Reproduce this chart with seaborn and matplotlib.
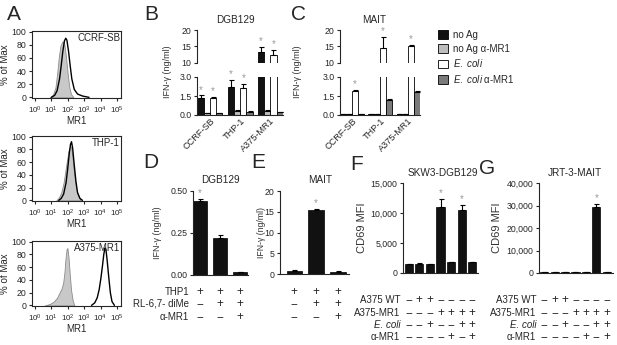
import numpy as np
import pandas as pd
import matplotlib
matplotlib.use("Agg")
import matplotlib.pyplot as plt
import matplotlib.transforms as mtransforms
from matplotlib.patches import Patch
import seaborn as sns

# ---------------- data ----------------
# Panel A: histogram outlines (log10 MR1 intensity, % of max)
ccrf_iso_x = [0.9, 1.1, 1.25, 1.35, 1.45, 1.55, 1.65, 1.72, 1.8, 1.9, 2.0, 2.1, 2.2, 2.35]
ccrf_iso_y = [0, 4, 15, 35, 60, 78, 84, 85, 80, 60, 35, 15, 5, 0]
ccrf_mr1_x = [1.0, 1.2, 1.35, 1.5, 1.6, 1.7, 1.8, 1.88, 1.95, 2.05, 2.15, 2.25, 2.4, 2.6, 2.9, 3.3]
ccrf_mr1_y = [0, 3, 10, 28, 48, 70, 86, 90, 87, 70, 48, 28, 12, 5, 2, 0]
thp_iso_x = [1.3, 1.45, 1.6, 1.75, 1.85, 1.95, 2.05, 2.15, 2.22, 2.3, 2.4, 2.5, 2.65, 2.8]
thp_iso_y = [0, 4, 12, 28, 45, 62, 78, 85, 82, 65, 40, 20, 6, 0]
thp_mr1_x = [1.45, 1.6, 1.75, 1.9, 2.0, 2.1, 2.17, 2.23, 2.3, 2.4, 2.5, 2.6, 2.75, 2.9]
thp_mr1_y = [0, 3, 10, 28, 50, 75, 88, 92, 82, 55, 30, 12, 3, 0]
a375_iso_x = [0.6, 0.9, 1.15, 1.35, 1.5, 1.62, 1.72, 1.8, 1.87, 1.93, 1.98, 2.05, 2.12, 2.2, 2.3, 2.4]
a375_iso_y = [0, 2, 6, 12, 20, 26, 35, 52, 75, 88, 90, 75, 50, 25, 8, 0]
a375_mr1_x = [3.45, 3.65, 3.8, 3.92, 4.02, 4.12, 4.2, 4.27, 4.33, 4.4, 4.5, 4.6, 4.7, 4.85]
a375_mr1_y = [0, 4, 12, 25, 42, 62, 80, 90, 88, 72, 45, 20, 6, 0]
a_titles = ["CCRF-SB", "THP-1", "A375-MR1"]

# Panels B / C
cells = ["CCRF-SB", "THP-1", "A375-MR1"]
conditions = ["no Ag", "no Ag α-MR1", "E. coli", "E. coli α-MR1"]
b_noag = [1.35, 2.2, 13.3]
b_noag_mr1 = [0.15, 0.35, 0.35]
b_ecoli = [1.35, 2.15, 12.5]
b_ecoli_mr1 = [0.15, 0.25, 0.2]
b_noag_err = [0.2, 0.6, 1.5]
b_noag_mr1_err = [0.02, 0.03, 0.03]
b_ecoli_err = [0.1, 0.3, 1.5]
b_ecoli_mr1_err = [0.02, 0.03, 0.02]
b_sig = [[1, 1, 1], [0, 0, 0], [1, 1, 1], [0, 0, 0]]

c_noag = [0.04, 0.04, 0.04]
c_noag_mr1 = [0.04, 0.04, 0.04]
c_ecoli = [1.9, 14.5, 15.3]
c_ecoli_mr1 = [0.04, 1.2, 1.8]
c_noag_err = [0.01, 0.01, 0.01]
c_noag_mr1_err = [0.01, 0.01, 0.01]
c_ecoli_err = [0.08, 3.5, 0.3]
c_ecoli_mr1_err = [0.01, 0.05, 0.08]
c_sig = [[0, 0, 0], [0, 0, 0], [1, 1, 1], [0, 0, 0]]

# Panel D / E
de_rows = ["THP1", "RL-6,7- diMe", "α-MR1"]
de_thp1 = ["+", "+", "+"]
de_rl = ["−", "+", "+"]
de_mr1 = ["−", "−", "+"]
d_vals = [0.44, 0.22, 0.015]
d_err = [0.012, 0.02, 0.003]
d_sig = [1, 0, 0]
e_vals = [0.8, 15.5, 0.6]
e_err = [0.05, 0.2, 0.05]
e_sig = [0, 1, 0]

# Panel F / G
fg_rows = ["A375 WT", "A375-MR1", "E. coli", "α-MR1"]
fg_wt = ["−", "+", "+", "−", "−", "−", "−"]
fg_mr1cells = ["−", "−", "−", "+", "+", "+", "+"]
fg_ecoli = ["−", "−", "+", "−", "−", "+", "+"]
fg_amr1 = ["−", "−", "−", "−", "+", "−", "+"]
f_vals = [1500, 1550, 1500, 11000, 1800, 10500, 1850]
f_err = [40, 40, 40, 1300, 60, 800, 60]
f_sig = [0, 0, 0, 1, 0, 1, 0]
g_vals = [250, 250, 250, 250, 250, 29500, 300]
g_err = [30, 30, 30, 30, 30, 1000, 30]
g_sig = [0, 0, 0, 0, 0, 1, 0]

# ---------------- style ----------------
sns.set_theme(style="ticks")
plt.rcParams["font.family"] = ["Liberation Sans", "DejaVu Sans"]
plt.rcParams["mathtext.fontset"] = "custom"
plt.rcParams["mathtext.rm"] = "Liberation Sans"
plt.rcParams["mathtext.it"] = "Liberation Sans:italic"
plt.rcParams["axes.linewidth"] = 0.8
plt.rcParams["xtick.major.width"] = 0.8
plt.rcParams["ytick.major.width"] = 0.8
plt.rcParams["xtick.major.size"] = 3
plt.rcParams["ytick.major.size"] = 3

W, H = 617, 345
fig = plt.figure(figsize=(W / 100, H / 100), dpi=100)


def rect(x0, y0, x1, y1):
    return [x0 / W, 1 - y1 / H, (x1 - x0) / W, (y1 - y0) / H]


def ftext(x, y, s, **kw):
    fig.text(x / W, 1 - y / H, s, **kw)


TICK = 6.3
STAR = "#9a9a9a"

# ---------------- Panel A ----------------
a_boxes = [(32, 31, 121, 98), (32, 136, 121, 201), (32, 241, 121, 306)]
a_data = [(ccrf_iso_x, ccrf_iso_y, ccrf_mr1_x, ccrf_mr1_y),
          (thp_iso_x, thp_iso_y, thp_mr1_x, thp_mr1_y),
          (a375_iso_x, a375_iso_y, a375_mr1_x, a375_mr1_y)]
for box, (ix, iy, mx, my), title in zip(a_boxes, a_data, a_titles):
    ax = fig.add_axes(rect(*box))
    ax.fill_between(10 ** np.array(ix), iy, color="#c8c8c8", edgecolor="#8c8c8c", lw=0.6)
    sns.lineplot(x=10 ** np.array(mx), y=my, ax=ax, color="black", lw=1.0)
    ax.set_xscale("log")
    ax.set_xlim(10 ** -0.18, 10 ** 5.25)
    ax.set_ylim(-1, 101)
    ax.set_xticks([10 ** k for k in range(6)])
    ax.set_xticklabels([f"$10^{{{k}}}$" for k in range(6)], fontsize=5.8)
    ax.set_yticks([0, 20, 40, 60, 80, 100])
    ax.tick_params(axis="y", labelsize=TICK, length=2.5, pad=1.5)
    ax.tick_params(axis="x", which="major", length=2.5, pad=2)
    ax.tick_params(axis="x", which="minor", length=1.5, width=0.5)
    ax.set_xlabel("MR1", fontsize=7, labelpad=0.5)
    ax.set_ylabel("% of Max", fontsize=7, labelpad=1)
    ax.text(0.99, 0.97, title, transform=ax.transAxes, ha="right", va="top", fontsize=7)

# ---------------- Panels B / C (broken axes) ----------------
pal = ["#111111", "#bdbdbd", "#ffffff", "#7a7a7a"]


def broken(x0, x1, vals, errs, sigs, ylab_x, title, title_x):
    df = pd.DataFrame({
        "cell": cells * 4,
        "cond": [c for c in conditions for _ in cells],
        "value": [v for vs in vals for v in vs],
    })
    ax_t = fig.add_axes(rect(x0, 30, x1, 63))
    ax_b = fig.add_axes(rect(x0, 77, x1, 115))
    for ax in (ax_t, ax_b):
        sns.barplot(data=df, x="cell", y="value", hue="cond", order=cells,
                    hue_order=conditions, palette=pal, width=0.83, ax=ax,
                    edgecolor="black", linewidth=0.6, errorbar=None, legend=False)
        for i, p in enumerate(ax.patches[:12]):
            j, k = divmod(i, 3)
            cx = p.get_x() + p.get_width() / 2
            ax.errorbar(cx, vals[j][k], yerr=[[0], [errs[j][k]]], fmt="none",
                        ecolor="black", elinewidth=0.8, capsize=1.8, capthick=0.8)
        ax.set_xlim(-0.43, 2.42)
        ax.set_xlabel("")
        ax.set_ylabel("")
        ax.tick_params(axis="y", labelsize=TICK, length=2.5, pad=1.5)
    ax_t.set_ylim(10, 20)
    ax_t.set_yticks([10, 15, 20])
    ax_t.set_xticks([])
    ax_t.spines[["top", "right", "bottom"]].set_visible(False)
    ax_b.set_ylim(0, 3.0)
    ax_b.set_yticks([0, 1.5, 3.0])
    ax_b.set_yticklabels(["0.0", "1.5", "3.0"])
    ax_b.spines[["top", "right"]].set_visible(False)
    ax_b.tick_params(axis="x", length=0, pad=1)
    ax_b.set_xticks(range(3))
    ax_b.set_xticklabels(cells, rotation=45, ha="right", rotation_mode="anchor", fontsize=6.6)
    for i, p in enumerate(ax_b.patches[:12]):
        j, k = divmod(i, 3)
        if not sigs[j][k]:
            continue
        cx = p.get_x() + p.get_width() / 2
        top = vals[j][k] + errs[j][k]
        if top > 3.0:
            ax_t.text(cx, top + 0.2, "*", ha="center", va="bottom", fontsize=7, color=STAR)
        else:
            ax_b.text(cx, top + 0.05, "*", ha="center", va="bottom", fontsize=7, color=STAR)
    ftext(ylab_x, 72, "IFN-γ (ng/ml)", rotation=90, ha="center", va="center", fontsize=6.5, color="#333333")
    ftext(title_x, 20, title, ha="center", va="center", fontsize=7.2)


broken(197, 283, [b_noag, b_noag_mr1, b_ecoli, b_ecoli_mr1],
       [b_noag_err, b_noag_mr1_err, b_ecoli_err, b_ecoli_mr1_err], b_sig, 167, "DGB129", 235)
broken(340, 420, [c_noag, c_noag_mr1, c_ecoli, c_ecoli_mr1],
       [c_noag_err, c_noag_mr1_err, c_ecoli_err, c_ecoli_mr1_err], c_sig, 298, "MAIT", 374)

handles = [Patch(facecolor=c, edgecolor="black", linewidth=0.6) for c in pal]
labels = ["no Ag", "no Ag α-MR1", r"$\it{E.\ coli}$", r"$\it{E.\ coli}$ α-MR1"]
fig.legend(handles, labels, loc="upper left", bbox_to_anchor=(433 / W, 1 - 25 / H),
           frameon=False, fontsize=7, handlelength=1.0, handleheight=1.0,
           labelspacing=0.38, handletextpad=0.6, borderpad=0)


# ---------------- simple bar panels ----------------
def simple(box, vals, errs, sigs, width, xlim, ylim, yticks, yticklabels, star_off):
    ax = fig.add_axes(rect(*box))
    names = [str(i) for i in range(len(vals))]
    sns.barplot(x=names, y=vals, color="#111111", width=width, ax=ax,
                edgecolor="black", linewidth=0.5, errorbar=None)
    centers = []
    for i, p in enumerate(ax.patches[:len(vals)]):
        cx = p.get_x() + p.get_width() / 2
        centers.append(cx)
        ax.errorbar(cx, vals[i], yerr=[[0], [errs[i]]], fmt="none", ecolor="black",
                    elinewidth=0.8, capsize=1.8, capthick=0.8)
        if sigs[i]:
            ax.text(cx, vals[i] + errs[i] + star_off, "*", ha="center", va="bottom",
                    fontsize=7, color=STAR)
    ax.set_xlim(*xlim)
    ax.set_ylim(*ylim)
    ax.set_yticks(yticks)
    ax.set_yticklabels(yticklabels)
    ax.set_xticks([])
    ax.set_xlabel("")
    ax.set_ylabel("")
    ax.spines[["top", "right"]].set_visible(False)
    ax.tick_params(axis="y", labelsize=TICK, length=2.5, pad=1.5)
    return ax, centers


def rows_below(ax, centers, rows, row_y, label_x=None, labels=None, fs=8.5):
    tr = mtransforms.blended_transform_factory(ax.transData, fig.transFigure)
    for r, (marks, y) in enumerate(zip(rows, row_y)):
        for cx, m in zip(centers, marks):
            ax.text(cx, 1 - y / H, m, transform=tr, ha="center", va="center", fontsize=fs)
        if labels is not None:
            style = "italic" if labels[r].startswith("E.") else "normal"
            ftext(label_x, y, labels[r], ha="right", va="center", fontsize=7, style=style)


# D
axD, cD = simple((193, 191, 248, 275), d_vals, d_err, d_sig, 0.7, (-0.36, 2.4),
                 (0, 0.5), [0, 0.25, 0.5], ["0.00", "0.25", "0.50"], 0.003)
rows_below(axD, cD, [de_thp1, de_rl, de_mr1], [292, 304, 317], 189, de_rows)
ftext(157, 233, "IFN-γ (ng/ml)", rotation=90, ha="center", va="center", fontsize=6.5, color="#333333")
ftext(220, 180, "DGB129", ha="center", va="center", fontsize=7.2)

# E
axE, cE = simple((280, 191, 349, 274), e_vals, e_err, e_sig, 0.7, (-0.65, 2.5),
                 (0, 20), [0, 5, 10, 15, 20], ["0", "5", "10", "15", "20"], 0.2)
rows_below(axE, cE, [de_thp1, de_rl, de_mr1], [292, 304, 317])
ftext(261, 233, "IFN-γ (ng/ml)", rotation=90, ha="center", va="center", fontsize=6.3, color="#333333")
ftext(320, 180, "MAIT", ha="center", va="center", fontsize=7.2)

# F
axF, cF = simple((403, 183, 478, 273), f_vals, f_err, f_sig, 0.78, (-0.55, 6.55),
                 (0, 15000), [0, 5000, 10000, 15000], ["0", "5,000", "10,000", "15,000"], 150)
rows_below(axF, cF, [fg_wt, fg_mr1cells, fg_ecoli, fg_amr1], [300, 313, 325, 337], 400, fg_rows)
ftext(362, 228, "CD69 MFI", rotation=90, ha="center", va="center", fontsize=8, color="#333333")
ftext(443, 173, "SKW3-DGB129", ha="center", va="center", fontsize=7.2)

# G
axG, cG = simple((539, 183, 613, 273), g_vals, g_err, g_sig, 0.78, (-0.5, 6.6),
                 (0, 40000), [0, 10000, 20000, 30000, 40000],
                 ["0", "10,000", "20,000", "30,000", "40,000"], 500)
rows_below(axG, cG, [fg_wt, fg_mr1cells, fg_ecoli, fg_amr1], [300, 313, 325, 337], 536, fg_rows)
ftext(497, 228, "CD69 MFI", rotation=90, ha="center", va="center", fontsize=8, color="#333333")
ftext(575, 173, "JRT-3-MAIT", ha="center", va="center", fontsize=7.2)

# panel letters
for letter, (x, y) in zip("ABCDEFG", [(14, 15), (151, 14), (298, 14), (151, 163),
                                       (258, 163), (357, 165), (487, 168)]):
    ftext(x, y, letter, ha="center", va="center", fontsize=15)

fig.savefig("out.png", dpi=100)
